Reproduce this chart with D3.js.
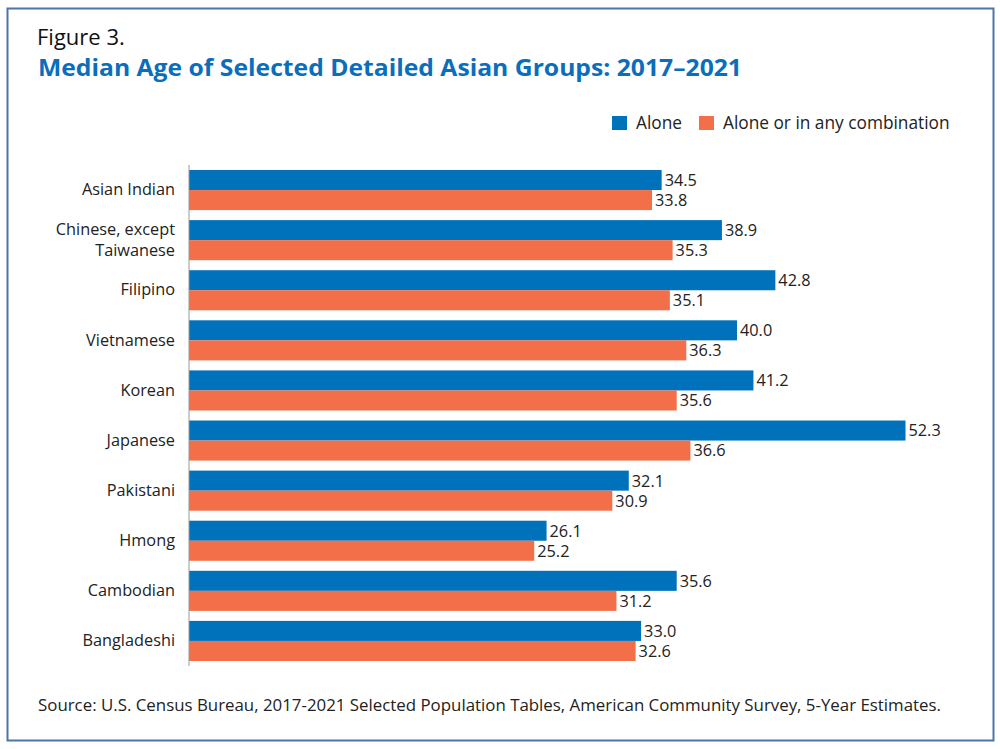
<!DOCTYPE html>
<html>
<head>
<meta charset="utf-8">
<script src="https://cdn.jsdelivr.net/npm/d3@7"></script>
<style>
  body { margin: 0; background: #fff; }
  text { font-family: "Open Sans", sans-serif; }
</style>
</head>
<body>
<div id="chart"></div>
<script>
// Data
var groups = ["Asian Indian", "Chinese, except Taiwanese", "Filipino", "Vietnamese", "Korean",
              "Japanese", "Pakistani", "Hmong", "Cambodian", "Bangladeshi"];
var series = ["Alone", "Alone or in any combination"];
var aloneValues = [34.5, 38.9, 42.8, 40.0, 41.2, 52.3, 32.1, 26.1, 35.6, 33.0];
var comboValues = [33.8, 35.3, 35.1, 36.3, 35.6, 36.6, 30.9, 25.2, 31.2, 32.6];

var width = 1000, height = 749;
var colors = { "Alone": "#0072bc", "Alone or in any combination": "#f36f4a" };
var labelSize = "16.3px";

var svg = d3.select("#chart")
    .append("svg")
    .attr("width", width)
    .attr("height", height);

// Frame round the figure
svg.append("rect")
    .attr("x", 7.5).attr("y", 8.5)
    .attr("width", 986).attr("height", 732)
    .attr("fill", "none")
    .attr("stroke", "#4d74a8")
    .attr("stroke-width", 2);

// Title
svg.append("text")
    .attr("x", 37).attr("y", 44.5)
    .style("font-size", "22px")
    .style("fill", "#111")
    .text("Figure 3.");

svg.append("text")
    .attr("x", 38).attr("y", 76)
    .style("font-size", "23px")
    .style("font-weight", "bold")
    .style("fill", "#0a6ebd")
    .attr("textLength", 704)
    .attr("lengthAdjust", "spacingAndGlyphs")
    .text("Median Age of Selected Detailed Asian Groups: 2017\u20132021");

// Scales
var x = d3.scaleLinear().domain([0, 55]).range([189, 189 + 13.7 * 55]);
var y = d3.scaleBand().domain(groups).range([165, 666]).paddingInner(0.2).paddingOuter(0.1);
var ySub = d3.scaleBand().domain(series).range([0, y.bandwidth()]);

var rows = groups.map(function(g, i) {
    return { group: g, values: [
        { key: series[0], value: aloneValues[i] },
        { key: series[1], value: comboValues[i] }
    ]};
});

// Bars
var rowG = svg.selectAll(".row")
    .data(rows)
    .enter()
    .append("g")
    .attr("class", "row")
    .attr("transform", d => "translate(0," + y(d.group) + ")");

rowG.selectAll("rect")
    .data(d => d.values)
    .enter()
    .append("rect")
    .attr("x", x(0))
    .attr("y", d => ySub(d.key))
    .attr("width", d => x(d.value) - x(0))
    .attr("height", ySub.bandwidth())
    .attr("fill", d => colors[d.key]);

rowG.selectAll(".val")
    .data(d => d.values)
    .enter()
    .append("text")
    .attr("class", "val")
    .attr("x", d => x(d.value) + 3)
    .attr("y", d => ySub(d.key) + ySub.bandwidth() / 2)
    .attr("dy", "0.36em")
    .style("font-size", labelSize)
    .style("fill", "#222")
    .text(d => d.value.toFixed(1));

// Category axis (labels only, with a thin line)
var yAxis = svg.append("g")
    .attr("transform", "translate(" + x(0) + ",0)")
    .call(d3.axisLeft(y).tickSize(0).tickPadding(14));
yAxis.select(".domain").attr("stroke", "#999").attr("d", "M0,165V666");
yAxis.selectAll("text")
    .style("font-size", labelSize)
    .style("font-family", "'Open Sans', sans-serif")
    .style("fill", "#222")
    .each(function(d) {
        if (d === "Chinese, except Taiwanese") {
            var t = d3.select(this).text(null);
            t.append("tspan").attr("x", -14).attr("dy", "-0.3em").text("Chinese, except");
            t.append("tspan").attr("x", -14).attr("dy", "1.25em").text("Taiwanese");
        }
    });

// Legend
var legendItems = [
    { key: series[0], x: 612 },
    { key: series[1], x: 699 }
];
var legend = svg.selectAll(".legend")
    .data(legendItems)
    .enter()
    .append("g")
    .attr("class", "legend")
    .attr("transform", d => "translate(" + d.x + ",116)");
legend.append("rect")
    .attr("width", 15).attr("height", 14)
    .attr("fill", d => colors[d.key]);
legend.append("text")
    .attr("x", 24).attr("y", 13)
    .style("font-size", "17.3px")
    .style("fill", "#222")
    .text(d => d.key);

// Source note
svg.append("text")
    .attr("x", 38).attr("y", 711)
    .style("font-size", labelSize)
    .style("fill", "#222")
    .attr("textLength", 903)
    .attr("lengthAdjust", "spacingAndGlyphs")
    .text("Source: U.S. Census Bureau, 2017-2021 Selected Population Tables, American Community Survey, 5-Year Estimates.");
</script>
</body>
</html>
